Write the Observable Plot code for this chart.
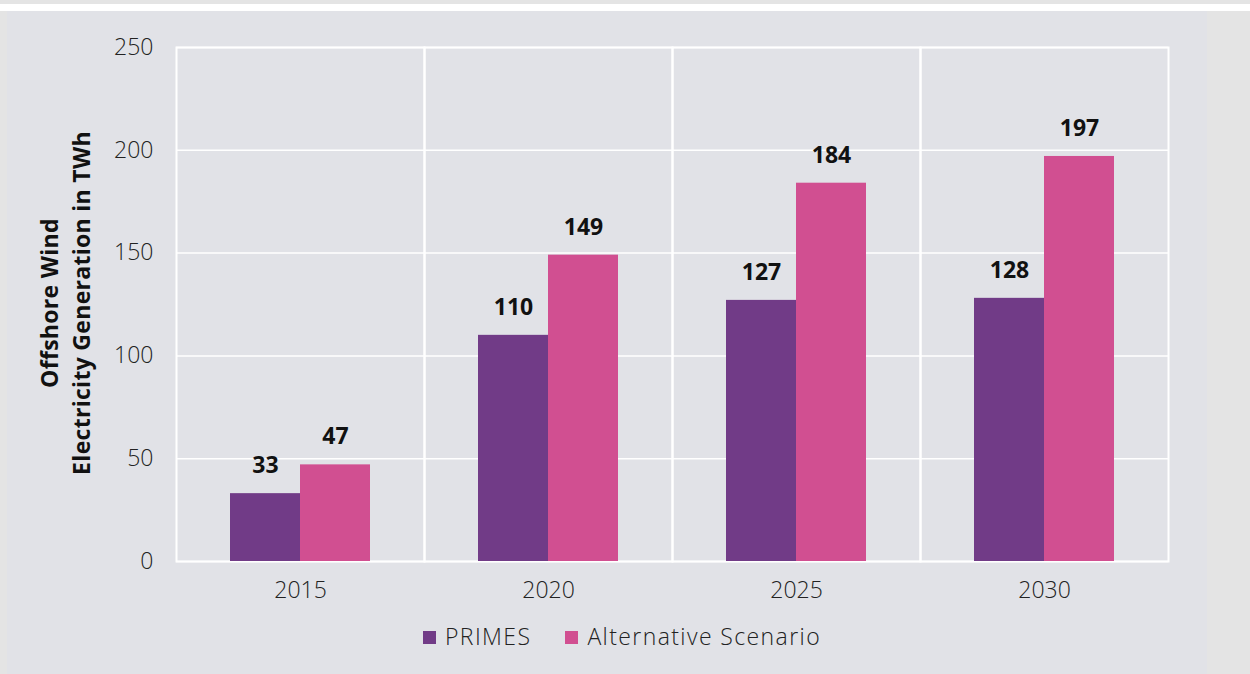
<!DOCTYPE html>
<html>
<head>
<meta charset="utf-8">
<script src="https://cdn.jsdelivr.net/npm/d3@7"></script>
<script src="https://cdn.jsdelivr.net/npm/@observablehq/plot@0.6"></script>
<style>
  html, body { margin: 0; padding: 0; }
  body { width: 1250px; height: 674px; background: #e4e4e4; position: relative; overflow: hidden; font-family: "Open Sans", sans-serif; }
  #strip { position: absolute; left: 0; top: 4px; width: 1250px; height: 7px; background: #ffffff; }
  #panel { position: absolute; left: 7px; top: 11px; width: 1200px; height: 663px; background: #e1e2e7; }
  #chart { position: absolute; left: 0; top: 0; }
  #ytitle { position: absolute; left: 65px; top: 303px; transform: translate(-50%, -50%) rotate(-90deg); white-space: nowrap; text-align: center; font-weight: 700; font-size: 23px; line-height: 32px; color: #111; letter-spacing: 0.3px; }
  #legend { position: absolute; left: 0; width: 1250px; top: 620px; display: flex; justify-content: center; box-sizing: border-box; font-size: 23px; font-weight: 300; color: #222; letter-spacing: 1.4px; padding-right: 6px; }
  .item { display: flex; align-items: center; margin: 0 17px; }
  .sw { width: 13px; height: 13px; margin-right: 9px; margin-top: 3px; }
</style>
</head>
<body>
<div id="strip"></div>
<div id="panel"></div>
<div id="chart"></div>
<div id="ytitle">Offshore Wind<br>Electricity Generation in TWh</div>
<div id="legend"></div>
<script>
const years = ["2015", "2020", "2025", "2030"];
const seriesNames = ["PRIMES", "Alternative Scenario"];
const primes = [33, 110, 127, 128];
const alternative = [47, 149, 184, 197];
const colors = ["#713b87", "#d14f91"];
const yTicks = [0, 50, 100, 150, 200, 250];

const data = [];
years.forEach((yr, i) => {
  data.push({year: yr, series: seriesNames[0], value: primes[i]});
  data.push({year: yr, series: seriesNames[1], value: alternative[i]});
});

const chart = Plot.plot({
  width: 1250,
  height: 610,
  marginLeft: 175,
  marginRight: 82,
  marginTop: 47,
  marginBottom: 49,
  style: {background: "transparent", fontFamily: "Open Sans, sans-serif", fontSize: "23px", color: "#222", overflow: "visible"},
  fx: {domain: years, paddingInner: 0, paddingOuter: 0, label: null},
  x: {domain: seriesNames, paddingInner: 0, paddingOuter: 0.748, axis: null},
  y: {domain: [0, 250], ticks: yTicks, label: null},
  color: {domain: seriesNames, range: colors},
  marks: [
    Plot.gridY(yTicks, {stroke: "#ffffff", strokeOpacity: 1, strokeWidth: 1.5}),
    Plot.frame({stroke: "#ffffff", strokeWidth: 2}),
    Plot.barY(data, {fx: "year", x: "series", y: "value", fill: "series"}),
    Plot.text(data, {fx: "year", x: "series", y: "value", text: d => String(d.value), dy: -28, fontWeight: "bold", fontSize: 23, fill: "#111"}),
    Plot.axisY(yTicks, {tickSize: 0, tickPadding: 23, fontSize: 23, fontWeight: 300, fill: "#222", label: null}),
    Plot.axisFx({anchor: "bottom", tickSize: 0, tickPadding: 20, fontSize: 23, fontWeight: 300, fill: "#222", label: null})
  ]
});
document.getElementById("chart").appendChild(chart);

const legend = document.getElementById("legend");
seriesNames.forEach((name, i) => {
  const item = document.createElement("div");
  item.className = "item";
  const sw = document.createElement("div");
  sw.className = "sw";
  sw.style.background = colors[i];
  const lab = document.createElement("span");
  lab.textContent = name;
  item.appendChild(sw);
  item.appendChild(lab);
  legend.appendChild(item);
});
</script>
</body>
</html>
